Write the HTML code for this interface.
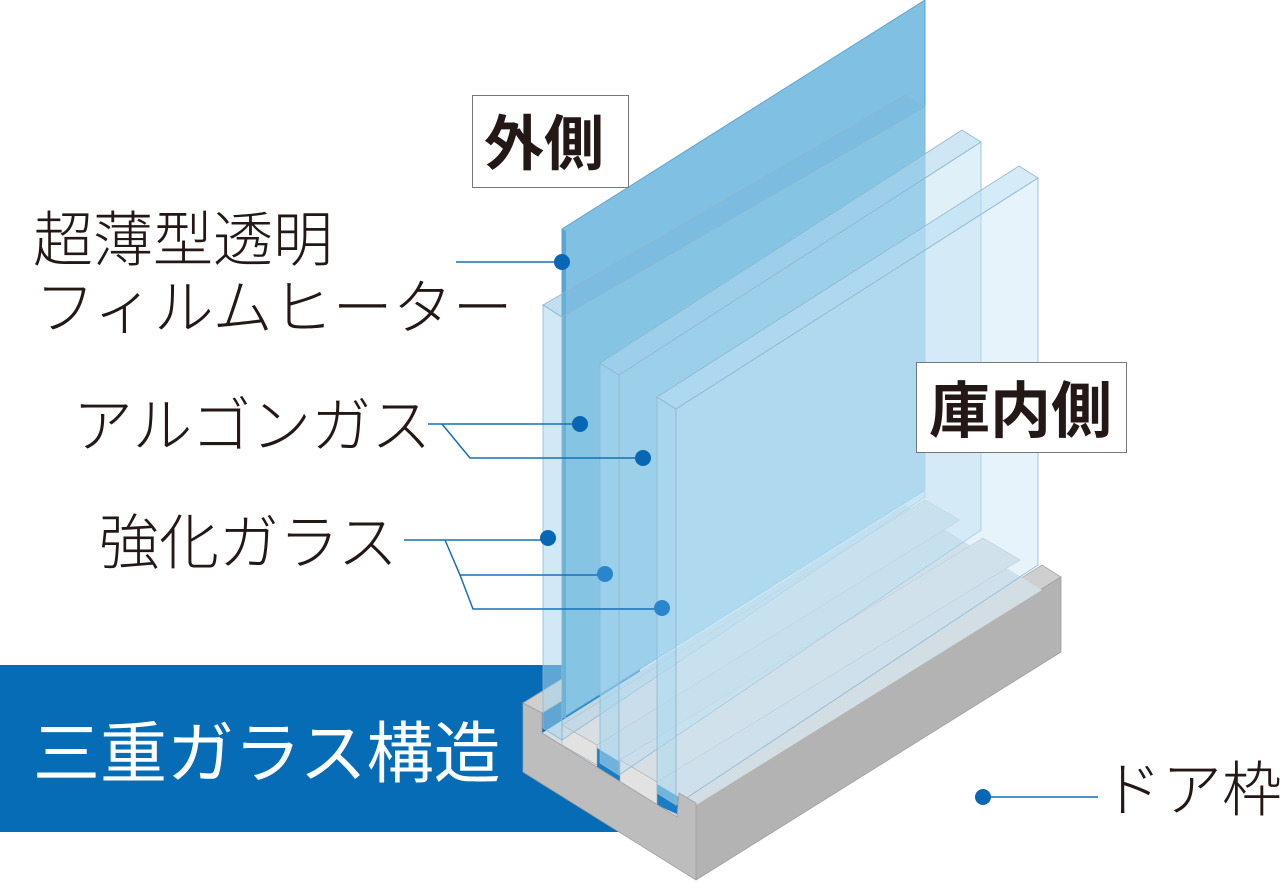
<!DOCTYPE html>
<html><head><meta charset="utf-8"><style>
html,body{margin:0;padding:0;background:#fff;}
svg{display:block;}
text{font-family:"Liberation Sans","Noto Sans CJK JP",sans-serif;}
</style></head><body>
<svg width="1280" height="882" viewBox="0 0 1280 882" xmlns="http://www.w3.org/2000/svg">
<rect x="0" y="665" width="640" height="167" fill="#066cb5"/>
<text x="33" y="777" font-size="67" fill="#fff" font-weight="400">三重ガラス構造</text>

<polygon points="679,793 696,803 1061,577 1042,565" fill="#cfcfcf" stroke="#a8a8a8" stroke-width="0.8"/>
<polygon points="696,803 1061,577 1061,652 696,880" fill="#b3b3b3" stroke="#a0a0a0" stroke-width="0.8"/>
<polygon points="542,733 677,817 1042,590 905,505" fill="#d3dde4"/>
<polygon points="597,748 620,762 620,785 597,771" fill="#1a7cc4"/>
<polygon points="657,784 679,797 679,815 657,805" fill="#1a7cc4"/>
<polygon points="562,725 597,745 960,520 925,500" fill="#d8dfe4" stroke="#bbb" stroke-width="0.6"/>
<polygon points="562,725 597,745 597,765 562,745" fill="#e2e2e2" stroke="#aaa" stroke-width="0.6"/>
<polygon points="620,760 657,782 1020,560 983,538" fill="#d8dfe4" stroke="#bbb" stroke-width="0.6"/>
<polygon points="620,760 657,782 657,805 620,783" fill="#e2e2e2" stroke="#aaa" stroke-width="0.6"/>
<polygon points="523,703 542,713 905,490 886,480" fill="#cfcfcf" stroke="#a8a8a8" stroke-width="0.8"/>

<polygon points="562,229 925,0 925,490 562,718" fill="#80c0e2" stroke="#5aa6d2" stroke-width="1"/>
<polygon points="562,229 566,231 566,718 562,718" fill="#5aa6d2"/>

<g stroke="#8fb7cf" stroke-width="0.8">
<polygon points="543,305 562,317 562,740 543,728" fill="rgba(170,215,238,0.55)"/>
<polygon points="543,305 905,95 925,107 562,317" fill="rgba(120,185,225,0.45)"/>
<polygon points="562,317 925,107 925,497 562,740" fill="rgba(150,205,232,0.3)"/>
</g>
<g stroke="#8fb7cf" stroke-width="0.8">
<polygon points="600,363 619,375 619,775 600,763" fill="rgba(170,215,238,0.6)"/>
<polygon points="600,363 962,130 981,142 619,375" fill="rgba(175,215,238,0.6)"/>
<polygon points="619,375 981,142 981,530 619,775" fill="rgba(185,222,242,0.45)"/>
</g>
<g stroke="#8fb7cf" stroke-width="0.8">
<polygon points="657,397 676,409 676,805 657,793" fill="rgba(175,218,240,0.6)"/>
<polygon points="657,397 1019,166 1038,178 676,409" fill="rgba(185,222,242,0.6)"/>
<polygon points="676,409 1038,178 1038,565 676,805" fill="rgba(200,228,244,0.45)"/>
</g>

<polygon points="523,703 542,713 542,733 677,817 679,793 696,803 696,880 523,772" fill="#bdbdbd" stroke="#a0a0a0" stroke-width="0.8"/>

<rect x="472.5" y="95.5" width="156" height="92" fill="#fff" stroke="#777"/>
<text x="484" y="165" font-size="60" font-weight="700" fill="#231815">外側</text>
<rect x="916.5" y="362.5" width="210" height="90" fill="#fff" stroke="#777"/>
<text x="929" y="432" font-size="61" font-weight="700" fill="#231815">庫内側</text>

<g font-size="60" fill="#231815" font-weight="300">
<text x="33" y="261">超薄型透明</text>
<text x="35" y="329">フィルムヒーター</text>
<text x="73" y="447">アルゴンガス</text>
<text x="99" y="564">強化ガラス</text>
<text x="1102" y="811">ドア枠</text>
</g>

<g stroke="#1370b8" stroke-width="1.5" fill="none">
<line x1="456" y1="262" x2="562" y2="262"/>
<polyline points="428,424 580,424"/>
<polyline points="442,424 470,458 643,458"/>
<polyline points="404,540 548,540"/>
<polyline points="445,540 460,575 605,575"/>
<polyline points="460,575 473,609 662,609"/>
<line x1="983" y1="797" x2="1098" y2="797"/>
</g>
<g fill="#0668b5">
<circle cx="562" cy="262" r="8"/>
<circle cx="580" cy="424" r="8"/>
<circle cx="643" cy="458" r="8"/>
<circle cx="548" cy="538" r="8"/>
<circle cx="983" cy="797" r="8"/>
</g>
<g fill="#2a86cc">
<circle cx="605" cy="574" r="8"/>
<circle cx="662" cy="608" r="8"/>
</g>
</svg>
</body></html>
